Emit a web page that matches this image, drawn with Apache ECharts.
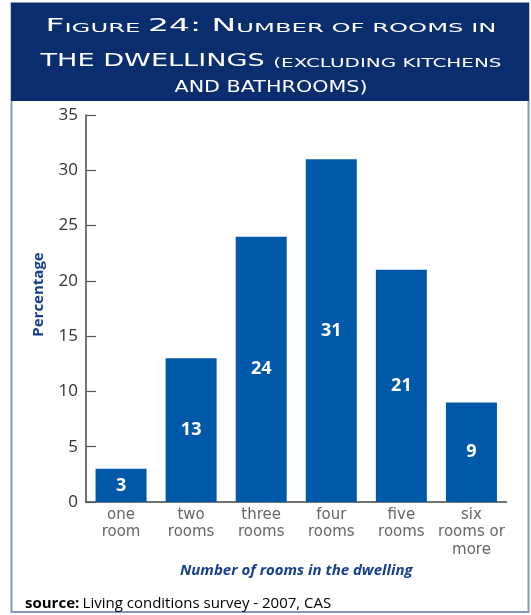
<!DOCTYPE html>
<html>
<head>
<meta charset="utf-8">
<script src="https://cdn.jsdelivr.net/npm/echarts@6/dist/echarts.min.js"></script>
<style>
html,body{margin:0;padding:0;background:#fff;}
#chart{width:531px;height:615px;}
</style>
</head>
<body>
<div id="chart"></div>
<script>
const categories = ['one\nroom', 'two\nrooms', 'three\nrooms', 'four\nrooms', 'five\nrooms', 'six\nrooms or\nmore'];
const percentages = [3, 13, 24, 31, 21, 9];
const yTicks = [0, 5, 10, 15, 20, 25, 30, 35];

const NAVY = '#0a2d6e';
const BAR = '#0059a8';
const TITLE_FONT = '"DejaVu Sans"';

// measure helper for title stretching
const cv = document.createElement('canvas').getContext('2d');
function measure(segs) {
  let w = 0;
  segs.forEach(s => { cv.font = s[1] + 'px ' + TITLE_FONT; w += cv.measureText(s[0]).width; });
  return w;
}
const BIG = 17, SMALL = 12.5, MID = 15;
const styleKey = { 17: 'b', 12.5: 's', 15: 'm' };
function richLine(segs) {
  return segs.map(s => '{' + styleKey[s[1]] + '|' + s[0] + '}').join('');
}
const titleLines = [
  { segs: [['F', BIG], ['IGURE ', SMALL], ['24: N', BIG], ['UMBER OF ROOMS IN', SMALL]], y: 25, w: 451 },
  { segs: [['THE DWELLINGS ', BIG], ['(EXCLUDING KITCHENS', SMALL]], y: 60, w: 461 },
  { segs: [['AND BATHROOMS)', MID]], y: 86, w: 193 }
];

const graphics = [
  { type: 'rect', shape: { x: 11.5, y: 3, width: 517, height: 609 }, style: { fill: 'none', stroke: '#8396bd', lineWidth: 2 }, z: 0 },
  { type: 'rect', shape: { x: 11, y: 3, width: 518, height: 98 }, style: { fill: NAVY }, z: 1 }
];
const richStyles = {};
[['b', BIG], ['s', SMALL], ['m', MID]].forEach(r => {
  richStyles[r[0]] = { fontFamily: TITLE_FONT, fontSize: r[1], color: '#fff', verticalAlign: 'bottom', lineHeight: 20 };
});
titleLines.forEach(l => {
  const sc = l.w / measure(l.segs);
  graphics.push({
    type: 'text', x: 271, y: l.y, scaleX: sc, z: 2,
    style: {
      text: richLine(l.segs),
      fill: '#ffffff',
      align: 'center', textAlign: 'center',
      verticalAlign: 'middle', textVerticalAlign: 'middle',
      rich: richStyles
    }
  });
});
graphics.push({
  type: 'text', x: 25, y: 604, z: 2,
  style: {
    text: '{b|source:} {n|Living conditions survey - 2007, CAS}',
    align: 'left', textAlign: 'left', verticalAlign: 'middle', textVerticalAlign: 'middle',
    rich: {
      b: { fontFamily: '"Open Sans"', fontWeight: 'bold', fontSize: 15, color: '#222' },
      n: { fontFamily: '"Open Sans"', fontSize: 15, color: '#808080' }
    }
  }
});

const chart = echarts.init(document.getElementById('chart'), null, { renderer: 'canvas' });
chart.setOption({
  animation: false,
  backgroundColor: '#fff',
  graphic: graphics,
  grid: { left: 86, right: 24.5, top: 115, bottom: 113, containLabel: false },
  xAxis: {
    type: 'category',
    data: categories,
    boundaryGap: true,
    name: 'Number of rooms in the dwelling',
    nameLocation: 'middle',
    nameGap: 56,
    nameTextStyle: { fontFamily: '"Open Sans"', fontWeight: 'bold', fontStyle: 'italic', fontSize: 15, color: '#163f8c' },
    axisLine: { lineStyle: { color: '#444', width: 1.5 } },
    axisTick: { inside: true, length: 10, interval: 0, lineStyle: { color: '#444', width: 1.2 } },
    axisLabel: { interval: 0, fontFamily: '"DejaVu Sans"', fontSize: 15, color: '#666', lineHeight: 17.5, margin: 4 }
  },
  yAxis: {
    type: 'value',
    min: yTicks[0], max: yTicks[yTicks.length - 1], interval: 5,
    name: 'Percentage',
    nameLocation: 'middle',
    nameGap: 40,
    nameRotate: 90,
    nameTextStyle: { fontFamily: '"Open Sans"', fontWeight: 'bold', fontSize: 15, color: '#163f8c', padding: [0, 0, 0, 28] },
    splitLine: { show: false },
    axisLine: { show: true, lineStyle: { color: '#444', width: 1.5 } },
    axisTick: { show: true, inside: true, length: 10, lineStyle: { color: '#555', width: 1.2 } },
    axisLabel: { fontFamily: '"Open Sans"', fontSize: 17, color: '#333', margin: 8 }
  },
  series: [{
    type: 'bar',
    data: percentages,
    barWidth: 51,
    itemStyle: { color: BAR },
    label: { show: true, position: 'inside', fontFamily: '"Open Sans"', fontWeight: 'bold', fontSize: 18, color: '#fff' }
  }]
});
</script>
</body>
</html>
